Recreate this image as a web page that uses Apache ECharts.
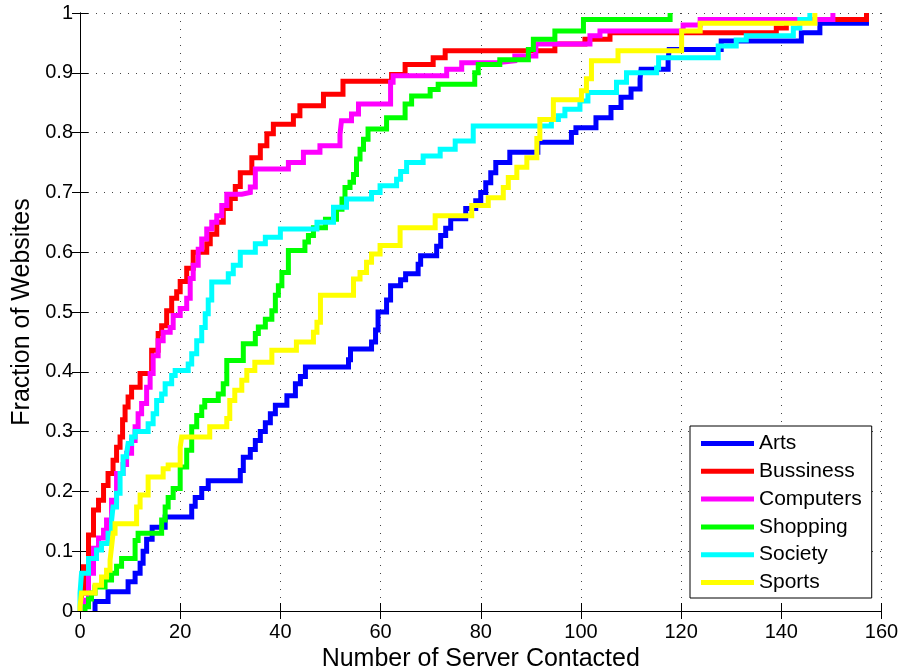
<!DOCTYPE html>
<html>
<head>
<meta charset="utf-8">
<script src="https://cdn.jsdelivr.net/npm/echarts@6/dist/echarts.min.js"></script>
<style>
  html, body { margin: 0; padding: 0; background: #fff; }
  #chart { width: 904px; height: 670px; }
</style>
</head>
<body>
<div id="chart"></div>
<script>
// tick values
var xTicks = [0, 20, 40, 60, 80, 100, 120, 140, 160];
var yTicks = [0, 0.1, 0.2, 0.3, 0.4, 0.5, 0.6, 0.7, 0.8, 0.9, 1];

var names = ['Arts', 'Bussiness', 'Computers', 'Shopping', 'Society', 'Sports'];
var colors = ['#0000ff', '#ff0000', '#ff00ff', '#00ff00', '#00ffff', '#ffff00'];

// CDF steps: x where the jump happens, y after the jump
var artsX = [3, 3, 5.6, 9.6, 11, 12, 12.6, 13.3, 14.4, 17, 22.3, 23, 24.3, 25.6, 32, 32.6, 34, 35, 36, 37, 38, 39, 41.3, 43, 44, 45, 53.6, 54, 58.2, 59, 59.5, 61.2, 62, 64, 65, 67.5, 68, 71.2, 72, 73, 74, 77, 79, 80, 81, 82, 83, 85.8, 91.4, 98.1, 99, 103, 106, 108, 110, 111.8, 112, 117.4, 117.6, 128, 144, 147.7, 157];
var artsY = [0, 0.016, 0.032, 0.049, 0.063, 0.08, 0.1, 0.12, 0.14, 0.157, 0.175, 0.19, 0.205, 0.218, 0.235, 0.257, 0.27, 0.285, 0.3, 0.315, 0.33, 0.344, 0.36, 0.38, 0.392, 0.408, 0.42, 0.438, 0.45, 0.47, 0.5, 0.52, 0.544, 0.554, 0.564, 0.58, 0.594, 0.61, 0.628, 0.64, 0.656, 0.673, 0.686, 0.7, 0.716, 0.733, 0.75, 0.767, 0.784, 0.8, 0.808, 0.825, 0.842, 0.859, 0.873, 0.89, 0.906, 0.92, 0.939, 0.953, 0.967, 0.983, 1];

var busX = [0.3, 0.3, 0.7, 1.7, 2.7, 3.7, 4.7, 5.6, 6.6, 7.3, 8, 8.5, 9, 9.6, 10.3, 12, 14.3, 15.6, 16.3, 17.3, 18.3, 19.3, 20, 21.3, 22.6, 25.3, 26, 27.3, 28.6, 30, 31, 32, 34.3, 36, 37.3, 38.6, 42.6, 43.9, 48.6, 52.5, 62.2, 64.9, 70.5, 72.9, 94.8, 100.8, 105.8, 139, 141, 157];
var busY = [0, 0.03, 0.074, 0.127, 0.169, 0.185, 0.21, 0.23, 0.252, 0.274, 0.291, 0.32, 0.341, 0.358, 0.374, 0.397, 0.436, 0.464, 0.477, 0.502, 0.523, 0.534, 0.551, 0.573, 0.6, 0.614, 0.63, 0.65, 0.673, 0.69, 0.71, 0.733, 0.758, 0.778, 0.798, 0.814, 0.828, 0.845, 0.864, 0.886, 0.897, 0.914, 0.925, 0.937, 0.948, 0.956, 0.967, 0.975, 0.989, 1];

var compX = [0.7, 0.7, 1.7, 2.7, 3.7, 4.7, 5.3, 6.3, 7.3, 8.6, 9.3, 10.3, 11, 11.6, 12.3, 13.3, 14, 14.6, 15.6, 16.6, 18, 18.6, 20, 21.3, 22, 22.6, 23.6, 24.3, 25.3, 26.3, 27.3, 28.3, 29.3, 32.3, 34, 35, 41.6, 44.6, 47.9, 51.9, 52.2, 54.2, 55.6, 62, 62.5, 73.2, 76.2, 83.2, 86.8, 91, 101.8, 103.8, 120.4, 123.8, 150.3];
var compY = [0, 0.018, 0.063, 0.105, 0.122, 0.135, 0.152, 0.185, 0.23, 0.245, 0.264, 0.285, 0.308, 0.33, 0.347, 0.374, 0.397, 0.427, 0.452, 0.466, 0.474, 0.494, 0.506, 0.523, 0.556, 0.578, 0.605, 0.622, 0.639, 0.65, 0.661, 0.678, 0.697, 0.7, 0.709, 0.739, 0.75, 0.767, 0.778, 0.797, 0.82, 0.831, 0.848, 0.884, 0.895, 0.906, 0.917, 0.92, 0.928, 0.948, 0.962, 0.97, 0.98, 0.989, 1];

var shopX = [1, 1, 1.7, 2.3, 3, 5, 6.3, 7.3, 8.3, 11, 11.6, 16.3, 17, 17.6, 18.6, 20, 21.3, 22.3, 23.3, 24.3, 24.9, 27.6, 28.6, 29.3, 32.6, 35, 35.6, 37, 38.3, 39, 39.6, 40.3, 41.6, 44.9, 45.6, 46.6, 49, 51.2, 52.3, 52.9, 53.9, 54.6, 55.2, 55.9, 56.6, 57.5, 61.2, 64.9, 66.2, 69.9, 71.5, 78.8, 79.5, 83.8, 89.5, 90.5, 94.8, 100.5, 117.8];
var shopY = [0, 0.007, 0.02, 0.03, 0.04, 0.052, 0.063, 0.075, 0.088, 0.118, 0.13, 0.152, 0.174, 0.19, 0.205, 0.241, 0.269, 0.308, 0.327, 0.341, 0.352, 0.363, 0.38, 0.419, 0.447, 0.464, 0.475, 0.488, 0.502, 0.528, 0.544, 0.566, 0.603, 0.617, 0.628, 0.641, 0.655, 0.672, 0.689, 0.708, 0.717, 0.73, 0.756, 0.772, 0.789, 0.806, 0.825, 0.848, 0.861, 0.872, 0.881, 0.9, 0.914, 0.922, 0.939, 0.956, 0.97, 0.989, 1];

var socX = [0, 0, 0.3, 1.7, 3.3, 4.3, 5.6, 6.3, 6.6, 7.3, 8, 8.6, 9.3, 9.6, 10.3, 11, 13.6, 14.6, 15.3, 16.3, 17, 18.3, 19, 21.6, 22.3, 23.3, 24.3, 25, 25.6, 26.3, 29.6, 30.6, 32, 35, 37, 40, 47.3, 50.6, 53.2, 58.2, 59.9, 63.2, 64, 65.2, 68.5, 71.9, 74.9, 78.5, 94.1, 95.5, 96.8, 99.8, 101.4, 107.1, 109.1, 115.1, 115.5, 127.4, 131, 133, 142.4, 143.7, 145.7];
var socY = [0, 0.03, 0.063, 0.088, 0.102, 0.113, 0.13, 0.152, 0.174, 0.197, 0.23, 0.258, 0.263, 0.28, 0.291, 0.3, 0.313, 0.33, 0.352, 0.363, 0.38, 0.394, 0.402, 0.413, 0.43, 0.452, 0.474, 0.497, 0.52, 0.55, 0.564, 0.578, 0.6, 0.614, 0.625, 0.639, 0.65, 0.675, 0.689, 0.7, 0.711, 0.722, 0.735, 0.75, 0.761, 0.772, 0.786, 0.811, 0.822, 0.828, 0.839, 0.853, 0.867, 0.884, 0.9, 0.908, 0.925, 0.945, 0.955, 0.962, 0.975, 0.989, 1];

var sportX = [0, 0, 0.3, 3, 4.3, 5.3, 6, 6.3, 6.6, 7, 11.3, 12, 13.6, 16.6, 17.6, 20, 20.3, 25.9, 29.3, 29.9, 30.9, 32.3, 33.3, 34.9, 38.3, 43.2, 46.6, 47.3, 48, 54.6, 55.9, 57.2, 58.2, 59.9, 63.9, 70.9, 78.2, 81.5, 84.5, 85.5, 87.2, 89.2, 91.2, 91.8, 94.5, 100.1, 101.1, 102.1, 107.4, 120.1, 123.8, 146.7];
var sportY = [0, 0.007, 0.03, 0.043, 0.057, 0.068, 0.085, 0.107, 0.13, 0.146, 0.174, 0.194, 0.224, 0.238, 0.244, 0.274, 0.291, 0.308, 0.322, 0.352, 0.369, 0.386, 0.402, 0.416, 0.436, 0.45, 0.466, 0.483, 0.528, 0.555, 0.566, 0.583, 0.597, 0.611, 0.641, 0.661, 0.678, 0.691, 0.708, 0.725, 0.742, 0.758, 0.79, 0.822, 0.855, 0.87, 0.89, 0.92, 0.937, 0.97, 0.983, 1];

var allX = [artsX, busX, compX, shopX, socX, sportX];
var allY = [artsY, busY, compY, shopY, socY, sportY];

function pairs(xs, ys) {
  var out = [];
  for (var i = 0; i < xs.length; i++) out.push([xs[i], ys[i]]);
  return out;
}

var font = '"Liberation Sans", Arial, Helvetica, sans-serif';
var chart = echarts.init(document.getElementById('chart'));

var dotted = { color: '#444', width: 1, type: [1, 7] };
var frame = { show: true, lineStyle: { color: '#000', width: 1 } };
var inTick = { show: true, inside: true, length: 8, lineStyle: { color: '#000' } };

var series = names.map(function (n, i) {
  return {
    name: n,
    type: 'line',
    step: 'end',
    showSymbol: false,
    symbol: 'none',
    lineStyle: { color: colors[i], width: 5, join: 'miter' },
    itemStyle: { color: colors[i] },
    data: pairs(allX[i], allY[i])
  };
});

chart.setOption({
  animation: false,
  backgroundColor: '#fff',
  grid: { left: 80, right: 22.5, top: 13, bottom: 59, containLabel: false, outerBoundsMode: 'none' },
  legend: {
    orient: 'vertical',
    left: 690,
    top: 426,
    padding: [7, 10, 5, 11],
    itemGap: 6.8,
    itemWidth: 53,
    itemHeight: 5,
    icon: 'rect',
    backgroundColor: '#fff',
    borderColor: '#000',
    borderWidth: 1,
    borderRadius: 0,
    textStyle: { fontFamily: font, fontSize: 21, color: '#000' },
    data: names
  },
  xAxis: [{
    type: 'value',
    min: xTicks[0],
    max: xTicks[xTicks.length - 1],
    interval: xTicks[1] - xTicks[0],
    name: 'Number of Server Contacted',
    nameLocation: 'middle',
    nameGap: 33,
    nameTextStyle: { fontFamily: font, fontSize: 25, color: '#000' },
    axisLine: frame,
    axisTick: inTick,
    axisLabel: { fontFamily: font, fontSize: 20, color: '#000', margin: 11 },
    splitLine: { show: true, lineStyle: dotted }
  }, {
    type: 'value',
    position: 'top',
    min: xTicks[0],
    max: xTicks[xTicks.length - 1],
    interval: xTicks[1] - xTicks[0],
    axisLine: frame,
    axisTick: inTick,
    axisLabel: { show: false },
    splitLine: { show: false }
  }],
  yAxis: [{
    type: 'value',
    min: yTicks[0],
    max: yTicks[yTicks.length - 1],
    interval: 0.1,
    name: 'Fraction of Websites',
    nameLocation: 'middle',
    nameGap: 44,
    nameTextStyle: { fontFamily: font, fontSize: 25, color: '#000' },
    axisLine: frame,
    axisTick: inTick,
    axisLabel: {
      fontFamily: font, fontSize: 20, color: '#000', margin: 7,
      formatter: function (v) {
        var idx = Math.round(v * 10);
        return String(yTicks[idx]);
      }
    },
    splitLine: { show: true, lineStyle: dotted }
  }, {
    type: 'value',
    position: 'right',
    min: yTicks[0],
    max: yTicks[yTicks.length - 1],
    interval: 0.1,
    axisLine: frame,
    axisTick: inTick,
    axisLabel: { show: false },
    splitLine: { show: false }
  }],
  series: series
});
</script>
</body>
</html>
